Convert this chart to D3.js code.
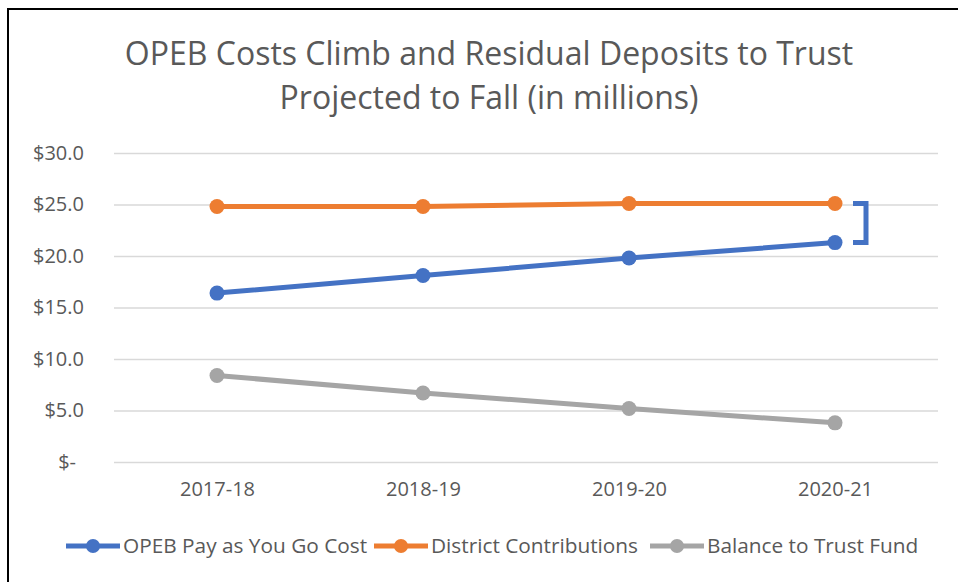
<!DOCTYPE html>
<html>
<head>
<meta charset="utf-8">
<script src="https://cdn.jsdelivr.net/npm/d3@7"></script>
<style>
  body { margin: 0; background: white; }
  text { font-family: "Open Sans", sans-serif; fill: #595959; }
</style>
</head>
<body>
<div id="container"></div>
<script>
/* CONSTANTS AND GLOBALS */

const width = 958
const height = 582
const margin = {top: 153, right: 20, bottom: 120, left: 114}

// data (in millions)
const years = ["2017-18", "2018-19", "2019-20", "2020-21"]
const payGo = [16.4, 18.1, 19.8, 21.3]
const contributions = [24.8, 24.8, 25.1, 25.1]
const trustBalance = [8.4, 6.7, 5.2, 3.8]
const yTicks = [0, 5, 10, 15, 20, 25, 30]

const seriesNames = ["OPEB Pay as You Go Cost", "District Contributions", "Balance to Trust Fund"]
const colors = ["#4472C4", "#ED7D31", "#A5A5A5"]

const series = [payGo, contributions, trustBalance].map((vals, i) => ({
  name: seriesNames[i],
  color: colors[i],
  values: vals.map((v, j) => ({year: years[j], value: v}))
}))

const svg = d3.select("#container")
  .append("svg")
  .attr("width", width)
  .attr("height", height)
  .style("background-color", "white")

// frame (runs off the right and bottom edges in the original)
svg.append("rect")
  .attr("x", 8).attr("y", 9)
  .attr("width", 1000).attr("height", 1000)
  .attr("fill", "none")
  .attr("stroke", "#000")
  .attr("stroke-width", 2)

/* TITLE */
const title = svg.append("text")
  .attr("text-anchor", "middle")
  .style("font-size", "32px")
title.append("tspan").attr("x", 489).attr("y", 65).text("OPEB Costs Climb and Residual Deposits to Trust")
title.append("tspan").attr("x", 489).attr("y", 109).text("Projected to Fall (in millions)")

/* SCALES */
const xScale = d3.scalePoint()
  .domain(years)
  .range([margin.left, 938])
  .padding(0.5)

const yScale = d3.scaleLinear()
  .domain([0, 30])
  .range([462, margin.top])

/* AXES */
const yAxis = svg.append("g")
  .attr("transform", `translate(${margin.left},0)`)
  .call(d3.axisLeft(yScale)
    .tickValues(yTicks)
    .tickSize(-(938 - margin.left))
    .tickPadding(30)
    .tickFormat(d => d === 0 ? "$-" : "$" + d3.format(".1f")(d)))
yAxis.select(".domain").remove()
yAxis.selectAll("line").attr("stroke", "#D9D9D9").attr("stroke-width", 1.5)
yAxis.selectAll("text")
  .style("font-size", "20px")
  .attr("fill", "#595959")
  .attr("dx", d => d === 0 ? -8 : 0)

const xAxis = svg.append("g")
  .attr("transform", `translate(0,462)`)
  .call(d3.axisBottom(xScale).tickSize(0).tickPadding(20))
xAxis.select(".domain").remove()
xAxis.selectAll("text").style("font-size", "20px").attr("fill", "#595959")

/* LINES */
const line = d3.line()
  .x(d => xScale(d.year))
  .y(d => yScale(d.value))

const groups = svg.selectAll(".series")
  .data(series)
  .join("g")
  .attr("class", "series")

groups.append("path")
  .attr("d", d => line(d.values))
  .attr("fill", "none")
  .attr("stroke", d => d.color)
  .attr("stroke-width", 5)
  .attr("stroke-linejoin", "round")

groups.selectAll("circle")
  .data(d => d.values.map(v => ({...v, color: d.color})))
  .join("circle")
  .attr("cx", d => xScale(d.year))
  .attr("cy", d => yScale(d.value))
  .attr("r", 7.5)
  .attr("fill", d => d.color)

/* BRACKET between last contribution and last pay-go cost */
const last = years.length - 1
const bx = xScale(years[last]) + 31
const by1 = yScale(contributions[last])
const by2 = yScale(payGo[last])
svg.append("path")
  .attr("d", `M${bx - 13},${by1} H${bx} V${by2} H${bx - 13}`)
  .attr("fill", "none")
  .attr("stroke", "#4472C4")
  .attr("stroke-width", 5)

/* LEGEND */
const legendX = [66, 374, 650]
const legend = svg.selectAll(".legend")
  .data(series)
  .join("g")
  .attr("class", "legend")
  .attr("transform", (d, i) => `translate(${legendX[i]},546)`)

legend.append("line")
  .attr("x1", 0).attr("x2", 54)
  .attr("stroke", d => d.color)
  .attr("stroke-width", 5)
legend.append("circle")
  .attr("cx", 27).attr("r", 7)
  .attr("fill", d => d.color)
legend.append("text")
  .attr("x", 57)
  .attr("dy", "0.35em")
  .style("font-size", "20.8px")
  .text(d => d.name)
</script>
</body>
</html>
